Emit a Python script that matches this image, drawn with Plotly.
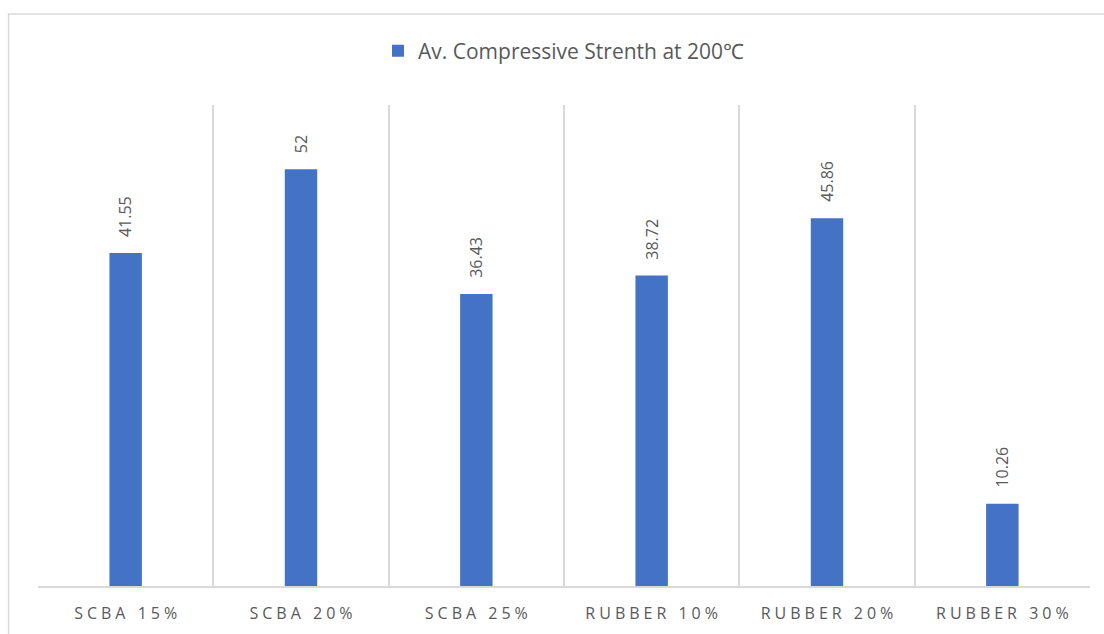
import plotly.graph_objects as go

# Average compressive strength after exposure to 200 °C, per mix
categories = ["SCBA 15%", "SCBA 20%", "SCBA 25%", "RUBBER 10%", "RUBBER 20%", "RUBBER 30%"]
strength = [41.55, 52, 36.43, 38.72, 45.86, 10.26]
series_name = "Av. Compressive Strenth at 200℃"

BAR_COLOR = "#4472C4"
TEXT_COLOR = "#595959"
GRID_COLOR = "#D9D9D9"
FONT = "Open Sans"


def spaced(label):
    # widen the letter spacing of category labels
    gap = "\u2005"
    return gap.join(label)


fig = go.Figure()
fig.add_trace(go.Bar(
    x=categories,
    y=strength,
    name=series_name,
    marker=dict(color=BAR_COLOR, line=dict(width=0)),
    width=0.185,
    showlegend=True,
))

# value labels, rotated, sitting above each bar
for cat, val in zip(categories, strength):
    fig.add_annotation(
        x=cat, y=val, text=f"{val:g}", textangle=-90,
        xanchor="center", yanchor="bottom", yshift=14,
        showarrow=False, font=dict(family=FONT, size=16, color=TEXT_COLOR),
    )

# outer chart frame
fig.add_shape(
    type="rect", xref="paper", yref="paper",
    x0=-0.028, x1=1.03, y0=-0.2, y1=1.189,
    line=dict(color=GRID_COLOR, width=1.5), fillcolor="rgba(0,0,0,0)",
    layer="below",
)

fig.update_layout(
    width=1104, height=634,
    margin=dict(l=38, r=14, t=105, b=48, autoexpand=False),
    paper_bgcolor="white", plot_bgcolor="white",
    font=dict(family=FONT, color=TEXT_COLOR),
    showlegend=True,
    legend=dict(
        orientation="h", x=0.5, xanchor="center", y=1.112, yanchor="middle",
        font=dict(family=FONT, size=21, color=TEXT_COLOR),
        bgcolor="rgba(0,0,0,0)", itemwidth=30,
    ),
    xaxis=dict(
        type="category",
        tickson="boundaries",
        showgrid=True, gridcolor=GRID_COLOR, gridwidth=1.5,
        showline=True, linecolor=GRID_COLOR, linewidth=1.5,
        ticks="", tickfont=dict(family=FONT, size=16, color=TEXT_COLOR),
        tickvals=categories, ticktext=[spaced(c) for c in categories],
        ticklabelstandoff=12,
        fixedrange=True,
    ),
    yaxis=dict(
        range=[0, 60], visible=False, showgrid=False, zeroline=False,
    ),
)

fig.write_html("out.html")
